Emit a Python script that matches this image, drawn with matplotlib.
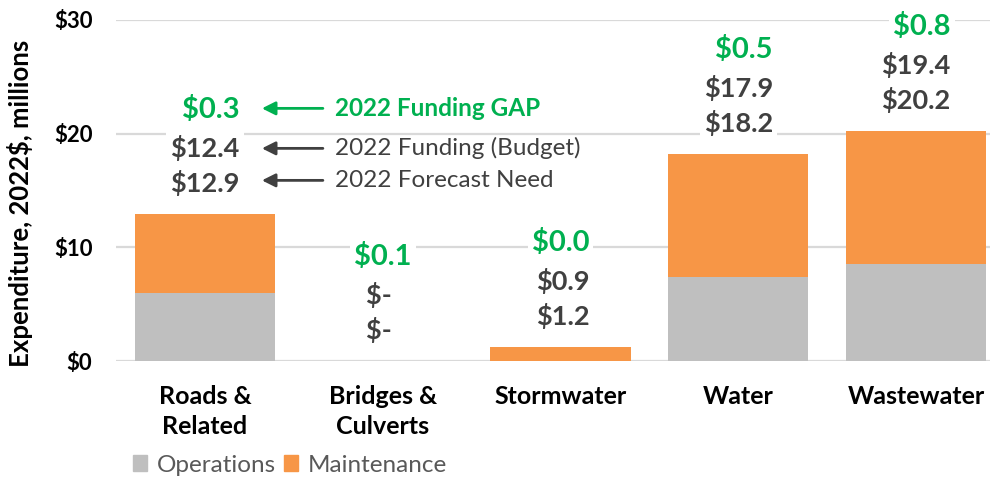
import matplotlib
matplotlib.use("Agg")
import matplotlib.pyplot as plt
from matplotlib.patches import Patch
from matplotlib.transforms import offset_copy

plt.rcParams['font.family'] = ['Lato', 'DejaVu Sans']

categories = ["Roads &\nRelated", "Bridges &\nCulverts", "Stormwater", "Water", "Wastewater"]
operations = [6.0, 0.0, 0.0, 7.4, 8.5]
maintenance = [6.9, 0.0, 1.2, 10.8, 11.7]
forecast_need = [12.9, 0.0, 1.2, 18.2, 20.2]
funding_budget = [12.4, 0.0, 0.9, 17.9, 19.4]
funding_gap = [0.3, 0.1, 0.0, 0.5, 0.8]
yticks = [0, 10, 20, 30]
ytick_labels = ["$0", "$10", "$20", "$30"]

GREY = "#BFBFBF"
ORANGE = "#F79646"
GREEN = "#00B050"
DARK = "#404040"

W, H = 992, 482
fig = plt.figure(figsize=(W / 100, H / 100), dpi=100)
ax = fig.add_axes([116 / W, 1 - 361 / H, (990 - 116) / W, (361 - 20) / H])

x = list(range(len(categories)))
ax.bar(x, operations, width=0.79, color=GREY, zorder=2)
ax.bar(x, maintenance, width=0.79, bottom=operations, color=ORANGE, zorder=2)

ax.set_xlim(-0.5, 4.416)
ax.set_ylim(0, 30)
ax.set_yticks(yticks)
ax.set_yticklabels(ytick_labels, fontsize=16, fontweight="bold")
ax.set_xticks(x)
ax.set_xticklabels(categories, fontsize=18, fontweight="bold", linespacing=1.4)
ax.tick_params(axis="both", length=0)
ax.tick_params(axis="y", pad=17)
ax.tick_params(axis="x", pad=17)
ax.yaxis.grid(True, color="#D9D9D9", lw=1.6, zorder=0)
ax.set_axisbelow(True)
for s in ax.spines.values():
    s.set_visible(False)
ax.set_ylabel("Expenditure, 2022$, millions", fontsize=18.5, fontweight="bold")
ax.yaxis.set_label_coords((33 - 116) / 874, (361 - 203) / 341)


def money(v):
    return "$-   " if v == 0 else f"${v:.1f}"


renderer = fig.canvas.get_renderer()
white_box = dict(facecolor="white", edgecolor="none", pad=3)

# value labels stacked above each bar: gap (green), budget, forecast need
for i, total in enumerate(forecast_need):
    lines = [
        (f"${funding_gap[i]:.1f}", GREEN, 21, 105),
        (money(funding_budget[i]), DARK, 19.5, 66),
        (money(forecast_need[i]), DARK, 19.5, 31),
    ]
    texts = []
    for s, c, fs, dy in lines:
        t = ax.annotate(s, xy=(i, total), xytext=(0, dy), textcoords="offset pixels",
                        ha="right", va="center", color=c, fontsize=fs,
                        fontweight="bold", bbox=white_box, zorder=3)
        texts.append(t)
    fig.canvas.draw()
    width = max(t.get_window_extent(renderer).width for t in texts)
    for t, (_, _, _, dy) in zip(texts, lines):
        t.xyann = (width / 2, dy)

# explanatory arrows beside the first category's labels
arrow_rows = [
    ("2022 Funding GAP", GREEN, "bold", 106),
    ("2022 Funding (Budget)", DARK, "normal", 66),
    ("2022 Forecast Need", DARK, "normal", 34),
]
anchor = (0, forecast_need[0])
for label, c, fw, dy in arrow_rows:
    head = offset_copy(ax.transData, fig=fig, x=57, y=dy, units="dots")
    tail = offset_copy(ax.transData, fig=fig, x=118, y=dy, units="dots")
    ax.annotate("", xy=anchor, xycoords=head, xytext=anchor, textcoords=tail,
                arrowprops=dict(arrowstyle="-|>", color=c, lw=2, mutation_scale=20,
                                shrinkA=0, shrinkB=0))
    ax.annotate(label, xy=anchor, xytext=(130, dy), textcoords="offset pixels",
                ha="left", va="center", color=c, fontsize=17.5, fontweight=fw)

handles = [Patch(color=GREY, label="Operations"), Patch(color=ORANGE, label="Maintenance")]
fig.legend(handles=handles, loc="center left", bbox_to_anchor=(111 / W, 1 - 465 / H),
           ncol=2, frameon=False, fontsize=17.5, handlelength=0.6, handleheight=0.6,
           handletextpad=0.4, columnspacing=0.3, labelcolor="#595959")

fig.savefig("out.png", dpi=100)
